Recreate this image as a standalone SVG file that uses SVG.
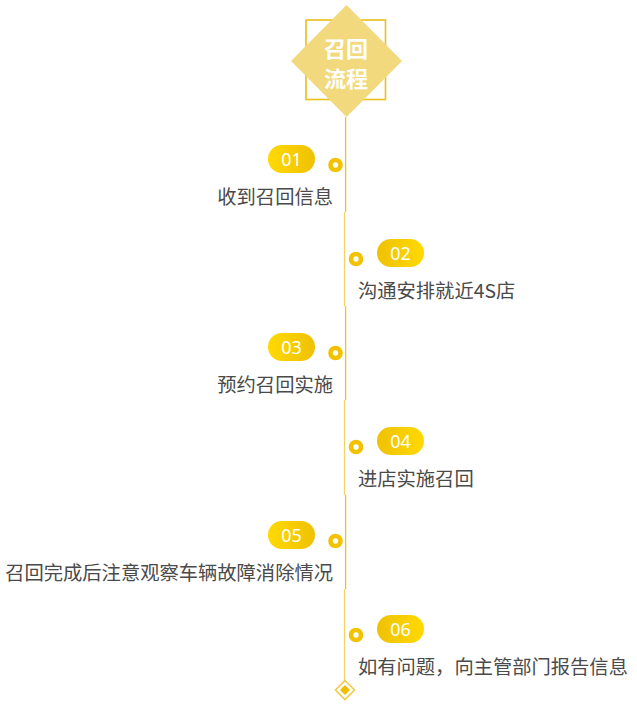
<svg xmlns="http://www.w3.org/2000/svg" width="637" height="715" viewBox="0 0 637 715">
<defs>
<style>
.lbl{font-family:"Noto Sans CJK SC","Noto Sans",sans-serif;font-size:19.3px;fill:#4a4a4a}
.num{font-family:"Noto Sans","Noto Sans CJK SC",sans-serif;font-size:18px;fill:#ffffff;text-anchor:middle}
.ttl{font-family:"Noto Sans CJK SC",sans-serif;font-size:22px;font-weight:bold;fill:#ffffff;text-anchor:middle}
.dot{fill:#ffffff;stroke:#F2C200;stroke-width:4.6}
.segA{stroke:#F0C21C;stroke-width:1.3}
.segB{stroke:#F4D264;stroke-width:1.3}
</style>
<linearGradient id="gL" x1="0" y1="0" x2="1" y2="0">
<stop offset="0" stop-color="#FFD900"/>
<stop offset="1" stop-color="#EFC104"/>
</linearGradient>
<linearGradient id="gR" x1="0" y1="0" x2="1" y2="0">
<stop offset="0" stop-color="#EFC104"/>
<stop offset="1" stop-color="#FFD900"/>
</linearGradient>
</defs>
<rect width="637" height="715" fill="#ffffff"/>

<g id="connectors">
<line class="segA" x1="345.6" y1="117" x2="345.6" y2="212"/>
<line class="segB" x1="344.5" y1="212" x2="344.5" y2="306"/>
<line class="segA" x1="345.6" y1="306" x2="345.6" y2="400"/>
<line class="segB" x1="344.5" y1="400" x2="344.5" y2="495"/>
<line class="segA" x1="345.6" y1="495" x2="345.6" y2="589"/>
<line class="segB" x1="344.5" y1="589" x2="344.5" y2="681"/>
</g>

<g id="title">
<rect x="306" y="20" width="79.5" height="79.5" fill="none" stroke="#E9BF1C" stroke-width="1.6"/>
<polygon points="346.5,5 402,61 346.5,117 291,61" fill="#F2D97E"/>
<text class="ttl" x="346" y="57">召回</text>
<text class="ttl" x="346" y="87">流程</text>
</g>

<g id="step01">
<rect x="268" y="145" width="47" height="28" rx="14" fill="url(#gL)"/>
<text class="num" x="291.5" y="165.5">01</text>
<circle class="dot" cx="335.5" cy="165" r="5"/>
<text class="lbl" x="333" y="204" text-anchor="end">收到召回信息</text>
</g>

<g id="step02">
<rect x="377" y="239" width="47" height="28" rx="14" fill="url(#gR)"/>
<text class="num" x="400.5" y="259.5">02</text>
<circle class="dot" cx="356" cy="259" r="5"/>
<text class="lbl" x="358" y="298">沟通安排就近4S店</text>
</g>

<g id="step03">
<rect x="268" y="333" width="47" height="28" rx="14" fill="url(#gL)"/>
<text class="num" x="291.5" y="353.5">03</text>
<circle class="dot" cx="335.5" cy="353" r="5"/>
<text class="lbl" x="333" y="392" text-anchor="end">预约召回实施</text>
</g>

<g id="step04">
<rect x="377" y="427" width="47" height="28" rx="14" fill="url(#gR)"/>
<text class="num" x="400.5" y="447.5">04</text>
<circle class="dot" cx="356" cy="447" r="5"/>
<text class="lbl" x="358" y="486">进店实施召回</text>
</g>

<g id="step05">
<rect x="268" y="521" width="47" height="28" rx="14" fill="url(#gL)"/>
<text class="num" x="291.5" y="541.5">05</text>
<circle class="dot" cx="335.5" cy="541" r="5"/>
<text class="lbl" x="333" y="580" text-anchor="end">召回完成后注意观察车辆故障消除情况</text>
</g>

<g id="step06">
<rect x="377" y="615" width="47" height="28" rx="14" fill="url(#gR)"/>
<text class="num" x="400.5" y="635.5">06</text>
<circle class="dot" cx="356" cy="635" r="5"/>
<text class="lbl" x="358" y="674">如有问题，向主管部门报告信息</text>
</g>

<g id="end">
<polygon points="345,680.5 354.5,690 345,699.5 335.5,690" fill="#ffffff" stroke="#F2CA4A" stroke-width="1.6"/>
<polygon points="345,685 350,690 345,695 340,690" fill="#F0C000"/>
</g>
</svg>
